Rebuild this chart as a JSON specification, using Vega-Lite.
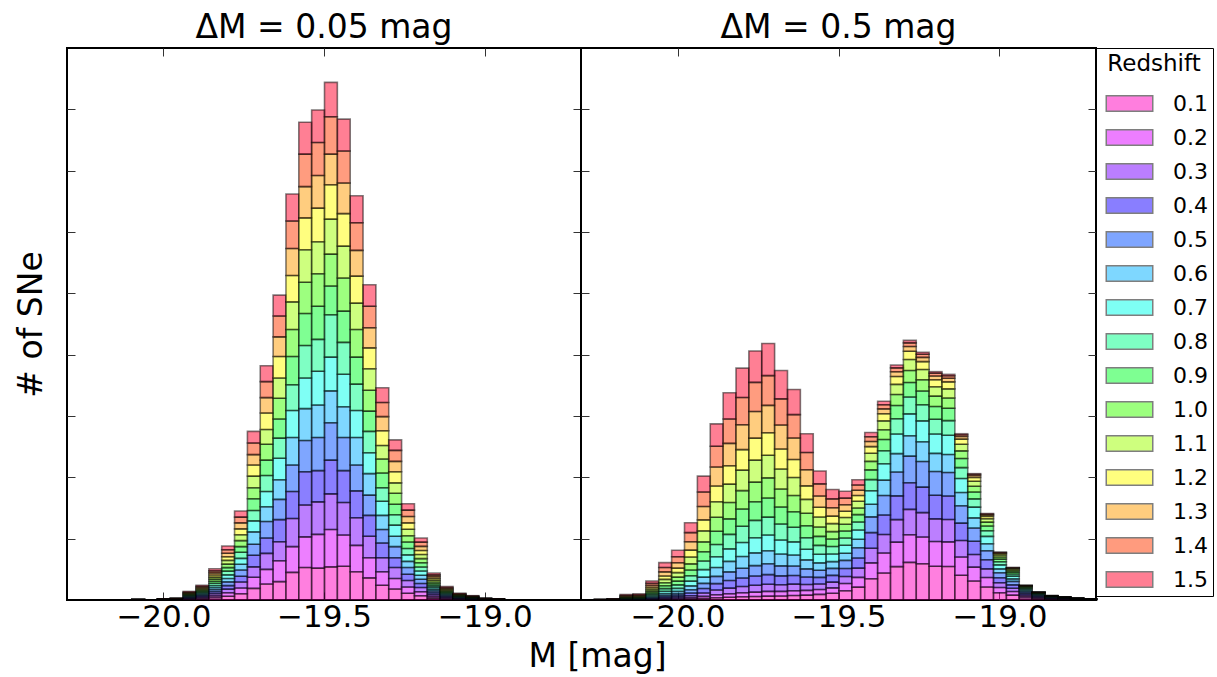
{
"$schema":"https://vega.github.io/schema/vega-lite/v6.json",
"padding":{"left":14,"top":10,"right":0,"bottom":5},
"spacing":0,
"bounds":"flush",
"config":{"font":"DejaVu Sans","view":{"stroke":"black","strokeWidth":2},
"axis":{"domain":false,"grid":false,"tickColor":"#333","tickWidth":1,"tickSize":-8,"labelFontSize":31,"labelColor":"black","titleFontSize":33,"titleFontWeight":"normal","titleColor":"black","labelFont":"DejaVu Sans","titleFont":"DejaVu Sans","minExtent":0},
"title":{"fontSize":33,"fontWeight":"normal","font":"DejaVu Sans","color":"black"}},
"data":{"values":[
{"p":"L","mag":-20.08,"a":0.07,"b":0.07,"c":0.07,"d":0.07,"e":0.07,"f":0.07,"g":0.07,"h":0.07,"i":0.07,"j":0.07,"k":0.07,"l":0.07,"m":0.07,"n":0.07,"o":0.07},
{"p":"L","mag":-20.00,"a":0.13,"b":0.13,"c":0.13,"d":0.13,"e":0.13,"f":0.13,"g":0.13,"h":0.13,"i":0.13,"j":0.13,"k":0.13,"l":0.13,"m":0.13,"n":0.13,"o":0.13},
{"p":"L","mag":-19.96,"a":0.2,"b":0.2,"c":0.2,"d":0.2,"e":0.2,"f":0.2,"g":0.2,"h":0.2,"i":0.2,"j":0.2,"k":0.2,"l":0.2,"m":0.2,"n":0.2,"o":0.2},
{"p":"L","mag":-19.92,"a":1.0,"b":0.9,"c":0.8,"d":1.0,"e":0.9,"f":1.1,"g":0.8,"h":1.0,"i":0.9,"j":0.9,"k":1.0,"l":0.8,"m":1.0,"n":0.9,"o":1.0},
{"p":"L","mag":-19.88,"a":1.7,"b":1.5,"c":1.6,"d":1.8,"e":1.4,"f":1.6,"g":1.7,"h":1.5,"i":1.6,"j":1.7,"k":1.5,"l":1.6,"m":1.6,"n":1.7,"o":1.5},
{"p":"L","mag":-19.84,"a":3.6,"b":3.2,"c":3.5,"d":3.3,"e":3.6,"f":3.1,"g":3.4,"h":3.5,"i":3.3,"j":3.6,"k":3.2,"l":3.4,"m":3.5,"n":3.3,"o":3.5},
{"p":"L","mag":-19.80,"a":6.2,"b":5.5,"c":6.0,"d":5.7,"e":6.1,"f":5.6,"g":5.9,"h":6.0,"i":5.8,"j":5.7,"k":6.1,"l":5.8,"m":5.9,"n":5.6,"o":6.1},
{"p":"L","mag":-19.76,"a":10.2,"b":9.3,"c":9.8,"d":9.5,"e":10.0,"f":9.4,"g":9.7,"h":9.9,"i":9.2,"j":9.8,"k":9.6,"l":9.5,"m":9.9,"n":9.4,"o":9.8},
{"p":"L","mag":-19.72,"a":19,"b":18,"c":17,"d":19,"e":18,"f":20,"g":18,"h":17,"i":19,"j":18,"k":19,"l":18,"m":17,"n":19,"o":19},
{"p":"L","mag":-19.68,"a":26,"b":24,"c":26,"d":25,"e":27,"f":24,"g":25,"h":26,"i":25,"j":26,"k":24,"l":27,"m":25,"n":26,"o":26},
{"p":"L","mag":-19.64,"a":30,"b":34,"c":31,"d":36,"e":33,"f":32,"g":35,"h":33,"i":31,"j":34,"k":33,"l":35,"m":32,"n":34,"o":34},
{"p":"L","mag":-19.60,"a":45,"b":42,"c":46,"d":44,"e":43,"f":45,"g":44,"h":42,"i":46,"j":44,"k":45,"l":43,"m":44,"n":45,"o":44},
{"p":"L","mag":-19.56,"a":53,"b":50,"c":52,"d":54,"e":51,"f":52,"g":50,"h":53,"i":52,"j":51,"k":53,"l":52,"m":51,"n":53,"o":52},
{"p":"L","mag":-19.52,"a":52,"b":55,"c":53,"d":51,"e":54,"f":53,"g":55,"h":52,"i":54,"j":53,"k":52,"l":55,"m":53,"n":54,"o":53},
{"p":"L","mag":-19.48,"a":54,"b":61,"c":58,"d":55,"e":61,"f":52,"g":55,"h":69,"i":47,"j":52,"k":57,"l":56,"m":50,"n":61,"o":56},
{"p":"L","mag":-19.44,"a":55,"b":51,"c":53,"d":52,"e":54,"f":50,"g":53,"h":52,"i":51,"j":54,"k":52,"l":53,"m":50,"n":52,"o":52},
{"p":"L","mag":-19.40,"a":46,"b":43,"c":45,"d":44,"e":42,"f":45,"g":44,"h":43,"i":44,"j":45,"k":43,"l":44,"m":42,"n":45,"o":44},
{"p":"L","mag":-19.36,"a":36,"b":33,"c":35,"d":34,"e":33,"f":35,"g":34,"h":35,"i":33,"j":34,"k":35,"l":34,"m":33,"n":35,"o":35},
{"p":"L","mag":-19.32,"a":24,"b":22,"c":23,"d":24,"e":22,"f":23,"g":23,"h":22,"i":24,"j":23,"k":22,"l":24,"m":23,"n":23,"o":24},
{"p":"L","mag":-19.28,"a":18,"b":17,"c":18,"d":16,"e":18,"f":17,"g":18,"h":17,"i":17,"j":18,"k":17,"l":18,"m":17,"n":18,"o":17},
{"p":"L","mag":-19.24,"a":11.0,"b":10.2,"c":10.6,"d":10.3,"e":10.8,"f":10.1,"g":10.5,"h":10.4,"i":10.6,"j":10.2,"k":10.7,"l":10.3,"m":10.5,"n":10.4,"o":10.4},
{"p":"L","mag":-19.20,"a":7.0,"b":6.5,"c":6.8,"d":6.6,"e":7.0,"f":6.5,"g":6.8,"h":6.7,"i":6.9,"j":6.6,"k":6.8,"l":6.6,"m":6.7,"n":6.8,"o":6.7},
{"p":"L","mag":-19.16,"a":3.1,"b":2.8,"c":3.0,"d":2.9,"e":3.0,"f":2.8,"g":3.0,"h":2.9,"i":3.0,"j":2.8,"k":3.0,"l":2.9,"m":3.0,"n":2.8,"o":3.0},
{"p":"L","mag":-19.12,"a":1.5,"b":1.4,"c":1.5,"d":1.4,"e":1.5,"f":1.5,"g":1.4,"h":1.5,"i":1.5,"j":1.4,"k":1.5,"l":1.5,"m":1.4,"n":1.5,"o":1.5},
{"p":"L","mag":-19.08,"a":0.7,"b":0.8,"c":0.7,"d":0.8,"e":0.7,"f":0.7,"g":0.8,"h":0.7,"i":0.7,"j":0.8,"k":0.7,"l":0.7,"m":0.8,"n":0.7,"o":0.7},
{"p":"L","mag":-19.04,"a":0.47,"b":0.47,"c":0.47,"d":0.47,"e":0.47,"f":0.47,"g":0.47,"h":0.47,"i":0.47,"j":0.47,"k":0.47,"l":0.47,"m":0.47,"n":0.47,"o":0.47},
{"p":"L","mag":-19.00,"a":0.2,"b":0.2,"c":0.2,"d":0.2,"e":0.2,"f":0.2,"g":0.2,"h":0.2,"i":0.2,"j":0.2,"k":0.2,"l":0.2,"m":0.2,"n":0.2,"o":0.2},
{"p":"L","mag":-18.96,"a":0.13,"b":0.13,"c":0.13,"d":0.13,"e":0.13,"f":0.13,"g":0.13,"h":0.13,"i":0.13,"j":0.13,"k":0.13,"l":0.13,"m":0.13,"n":0.13,"o":0.13},
{"p":"R","mag":-20.24,"a":0.01,"b":0.02,"c":0.03,"d":0.04,"e":0.04,"f":0.05,"g":0.06,"h":0.07,"i":0.08,"j":0.08,"k":0.09,"l":0.09,"m":0.11,"n":0.12,"o":0.13},
{"p":"R","mag":-20.20,"a":0.02,"b":0.03,"c":0.05,"d":0.07,"e":0.08,"f":0.1,"g":0.12,"h":0.14,"i":0.15,"j":0.16,"k":0.18,"l":0.18,"m":0.22,"n":0.24,"o":0.26},
{"p":"R","mag":-20.16,"a":0.1,"b":0.1,"c":0.2,"d":0.3,"e":0.4,"f":0.5,"g":0.5,"h":0.6,"i":0.7,"j":0.7,"k":0.8,"l":0.8,"m":1.0,"n":1.1,"o":1.2},
{"p":"R","mag":-20.12,"a":0.1,"b":0.15,"c":0.25,"d":0.35,"e":0.4,"f":0.5,"g":0.6,"h":0.7,"i":0.75,"j":0.8,"k":0.9,"l":0.9,"m":1.1,"n":1.2,"o":1.3},
{"p":"R","mag":-20.08,"a":0.3,"b":0.5,"c":0.8,"d":1.1,"e":1.2,"f":1.6,"g":1.9,"h":2.2,"i":2.3,"j":2.5,"k":2.8,"l":2.8,"m":3.4,"n":3.7,"o":4.0},
{"p":"R","mag":-20.04,"a":0.6,"b":0.9,"c":1.5,"d":2.1,"e":2.4,"f":3.1,"g":3.7,"h":4.3,"i":4.6,"j":4.9,"k":5.5,"l":5.5,"m":6.7,"n":7.3,"o":7.9},
{"p":"R","mag":-20.00,"a":0.8,"b":1.2,"c":2.0,"d":2.8,"e":3.2,"f":4.1,"g":4.9,"h":5.7,"i":6.1,"j":6.5,"k":7.3,"l":7.3,"m":8.9,"n":9.7,"o":10.5},
{"p":"R","mag":-19.96,"a":1.5,"b":2.1,"c":3.3,"d":4.6,"e":5.2,"f":6.4,"g":7.6,"h":8.8,"i":9.4,"j":10.0,"k":11.2,"l":11.2,"m":13.7,"n":14.9,"o":16.1},
{"p":"R","mag":-19.92,"a":2.6,"b":3.4,"c":5.4,"d":7.4,"e":8.3,"f":10.2,"g":12.2,"h":14.1,"i":15.1,"j":16.0,"k":18.0,"l":17.9,"m":21.8,"n":23.8,"o":25.8},
{"p":"R","mag":-19.88,"a":3.7,"b":4.9,"c":7.6,"d":10.5,"e":11.9,"f":14.5,"g":17.4,"h":20.1,"i":21.4,"j":22.8,"k":25.5,"l":25.5,"m":31.0,"n":33.8,"o":36.6},
{"p":"R","mag":-19.84,"a":4.5,"b":5.8,"c":9.1,"d":12.4,"e":14.0,"f":17.1,"g":20.5,"h":23.6,"i":25.2,"j":26.8,"k":30.0,"l":29.9,"m":36.4,"n":39.7,"o":42.9},
{"p":"R","mag":-19.80,"a":5.2,"b":6.6,"c":10.2,"d":13.9,"e":15.8,"f":19.2,"g":22.9,"h":26.4,"i":28.2,"j":29.9,"k":33.5,"l":33.4,"m":40.6,"n":44.3,"o":47.9},
{"p":"R","mag":-19.76,"a":5.7,"b":7.2,"c":11.1,"d":15.1,"e":17.0,"f":20.7,"g":24.7,"h":28.4,"i":30.2,"j":32.1,"k":35.9,"l":35.8,"m":43.5,"n":47.4,"o":51.3},
{"p":"R","mag":-19.72,"a":6.3,"b":7.7,"c":11.6,"d":15.7,"e":17.7,"f":21.4,"g":25.5,"h":29.2,"i":31.1,"j":32.9,"k":36.9,"l":36.7,"m":44.6,"n":48.5,"o":52.5},
{"p":"R","mag":-19.68,"a":6.5,"b":7.5,"c":10.9,"d":14.5,"e":16.3,"f":19.3,"g":22.9,"h":26.1,"i":27.7,"j":29.2,"k":32.7,"l":32.5,"m":39.2,"n":42.7,"o":46.1},
{"p":"R","mag":-19.64,"a":7.4,"b":7.8,"c":10.7,"d":14.0,"e":15.5,"f":18.0,"g":21.3,"h":23.9,"i":25.2,"j":26.5,"k":29.5,"l":29.2,"m":35.1,"n":38.1,"o":41.1},
{"p":"R","mag":-19.60,"a":8.0,"b":7.7,"c":9.6,"d":12.2,"e":13.3,"f":14.7,"g":17.2,"h":18.8,"i":19.6,"j":20.4,"k":22.5,"l":22.1,"m":26.2,"n":28.3,"o":30.5},
{"p":"R","mag":-19.56,"a":9.1,"b":7.9,"c":9.0,"d":10.9,"e":11.7,"f":12.0,"g":13.9,"h":14.5,"i":14.8,"j":15.1,"k":16.4,"l":15.9,"m":18.4,"n":19.7,"o":21.1},
{"p":"R","mag":-19.52,"a":10.9,"b":8.9,"c":9.4,"d":10.9,"e":11.4,"f":11.0,"g":12.4,"h":12.3,"i":12.2,"j":12.1,"k":13.0,"l":12.3,"m":13.6,"n":14.5,"o":15.3},
{"p":"R","mag":-19.48,"a":15.1,"b":11.7,"c":11.6,"d":12.9,"e":13.3,"f":11.7,"g":13.0,"h":11.9,"i":11.4,"j":10.8,"k":11.2,"l":10.2,"m":10.5,"n":10.8,"o":11.1},
{"p":"R","mag":-19.44,"a":21.0,"b":15.9,"c":15.1,"d":16.4,"e":16.7,"f":13.9,"g":15.2,"h":13.0,"i":12.0,"j":10.9,"k":10.8,"l":9.5,"m":8.6,"n":8.6,"o":8.5},
{"p":"R","mag":-19.40,"a":34.7,"b":25.8,"c":23.9,"d":25.5,"e":25.7,"f":20.5,"g":22.1,"h":18.0,"i":15.9,"j":13.9,"k":13.2,"l":10.9,"m":8.4,"n":7.7,"o":7.0},
{"p":"R","mag":-19.36,"a":44.1,"b":32.6,"c":30.0,"d":31.8,"e":31.9,"f":25.0,"g":26.7,"h":21.2,"i":18.5,"j":15.7,"k":14.6,"l":11.6,"m":7.9,"n":6.8,"o":5.6},
{"p":"R","mag":-19.32,"a":54.4,"b":40.0,"c":36.7,"d":38.7,"e":38.8,"f":30.0,"g":32.0,"h":25.0,"i":21.5,"j":18.0,"k":16.4,"l":12.8,"m":7.8,"n":6.3,"o":4.7},
{"p":"R","mag":-19.28,"a":61.4,"b":45.1,"c":41.2,"d":43.4,"e":43.4,"f":33.4,"g":35.6,"h":27.6,"i":23.6,"j":19.6,"k":17.7,"l":13.6,"m":7.8,"n":5.9,"o":4.0},
{"p":"R","mag":-19.24,"a":59.2,"b":43.5,"c":39.7,"d":41.7,"e":41.8,"f":32.0,"g":34.1,"h":26.3,"i":22.4,"j":18.5,"k":16.7,"l":12.7,"m":7.0,"n":5.1,"o":3.3},
{"p":"R","mag":-19.20,"a":55.0,"b":40.4,"c":36.8,"d":38.6,"e":38.7,"f":29.6,"g":31.5,"h":24.2,"i":20.6,"j":17.0,"k":15.2,"l":11.5,"m":6.2,"n":4.4,"o":2.6},
{"p":"R","mag":-19.16,"a":54.6,"b":40.1,"c":36.5,"d":38.4,"e":38.4,"f":29.3,"g":31.2,"h":23.9,"i":20.3,"j":16.7,"k":14.9,"l":11.3,"m":5.9,"n":4.1,"o":2.3},
{"p":"R","mag":-19.12,"a":40.4,"b":29.6,"c":27.0,"d":28.3,"e":28.3,"f":21.6,"g":23.0,"h":17.6,"i":15.0,"j":12.3,"k":10.9,"l":8.3,"m":4.3,"n":2.9,"o":1.6},
{"p":"R","mag":-19.08,"a":30.9,"b":22.7,"c":20.6,"d":21.6,"e":21.6,"f":16.5,"g":17.5,"h":13.4,"i":11.3,"j":9.3,"k":8.2,"l":6.2,"m":3.1,"n":2.1,"o":1.0},
{"p":"R","mag":-19.04,"a":21.2,"b":15.5,"c":14.1,"d":14.8,"e":14.8,"f":11.3,"g":12.0,"h":9.2,"i":7.8,"j":6.3,"k":5.6,"l":4.2,"m":2.1,"n":1.4,"o":0.7},
{"p":"R","mag":-19.00,"a":11.7,"b":8.6,"c":7.8,"d":8.2,"e":8.2,"f":6.2,"g":6.6,"h":5.1,"i":4.3,"j":3.5,"k":3.1,"l":2.3,"m":1.2,"n":0.8,"o":0.4},
{"p":"R","mag":-18.96,"a":8.0,"b":5.8,"c":5.3,"d":5.6,"e":5.6,"f":4.2,"g":4.5,"h":3.4,"i":2.9,"j":2.4,"k":2.1,"l":1.6,"m":0.8,"n":0.5,"o":0.3},
{"p":"R","mag":-18.92,"a":3.6,"b":2.6,"c":2.4,"d":2.5,"e":2.5,"f":1.9,"g":2.0,"h":1.6,"i":1.3,"j":1.1,"k":1.0,"l":0.7,"m":0.4,"n":0.2,"o":0.1},
{"p":"R","mag":-18.88,"a":2.0,"b":1.4,"c":1.3,"d":1.4,"e":1.4,"f":1.0,"g":1.1,"h":0.8,"i":0.7,"j":0.6,"k":0.5,"l":0.4,"m":0.2,"n":0.1,"o":0.1},
{"p":"R","mag":-18.84,"a":1.1,"b":0.8,"c":0.7,"d":0.7,"e":0.7,"f":0.6,"g":0.6,"h":0.5,"i":0.4,"j":0.3,"k":0.3,"l":0.2,"m":0.1,"n":0.1,"o":0.04},
{"p":"R","mag":-18.80,"a":0.8,"b":0.6,"c":0.5,"d":0.5,"e":0.5,"f":0.4,"g":0.4,"h":0.3,"i":0.3,"j":0.2,"k":0.2,"l":0.2,"m":0.1,"n":0.05,"o":0.03},
{"p":"R","mag":-18.76,"a":0.45,"b":0.33,"c":0.3,"d":0.32,"e":0.32,"f":0.24,"g":0.26,"h":0.2,"i":0.17,"j":0.14,"k":0.12,"l":0.09,"m":0.05,"n":0.03,"o":0.02},
{"p":"R","mag":-18.72,"a":0.3,"b":0.22,"c":0.2,"d":0.21,"e":0.21,"f":0.16,"g":0.17,"h":0.13,"i":0.11,"j":0.09,"k":0.08,"l":0.06,"m":0.03,"n":0.02,"o":0.01}
]},
"hconcat":[
{"width":514,"height":552,
"title":{"text":"ΔM = 0.05 mag","baseline":"alphabetic","offset":-23},
"layer":[
{"transform":[{"filter":"datum.p=='L'"},{"fold":["a","b","c","d","e","f","g","h","i","j","k","l","m","n","o"],"as":["zk","cnt"]}],
"mark":{"type":"bar","fillOpacity":0.5,"stroke":"black","strokeOpacity":0.5,"strokeWidth":1.6,"binSpacing":0},
"encoding":{
"x":{"field":"mag","type":"quantitative","bin":{"extent":[-20.3,-18.7],"step":0.04,"nice":false},"scale":{"domain":[-20.3,-18.7],"nice":false,"zero":false},"axis":{"orient":"bottom","values":[-20,-19.5,-19],"format":".1f","labelPadding":10,"title":null}},
"y":{"aggregate":"sum","field":"cnt","type":"quantitative","stack":"zero","scale":{"domain":[0,900],"nice":false},"axis":{"orient":"left","values":[100,200,300,400,500,600,700,800],"labels":false,"title":"# of SNe","titlePadding":18}},
"color":{"field":"zk","type":"nominal","scale":{"domain":["a","b","c","d","e","f","g","h","i","j","k","l","m","n","o"],"range":["#ff00bf","#dc00ff","#7900ff","#1600ff","#004dff","#00b0ff","#00ffeb","#00ff89","#00ff27","#3bff00","#9eff00","#fffe00","#ff9c00","#ff3900","#ff0029"]},
"legend":{"title":"Redshift","orient":"right","offset":-3,"padding":5,"strokeColor":"black","titleFontSize":23,"titleFontWeight":"normal","titleColor":"black","titleAnchor":"middle","titlePadding":11,"labelFontSize":22,"labelColor":"black","symbolType":"M-1.5,-0.5H1.5V0.5H-1.5Z","symbolSize":961,"symbolOpacity":0.5,"symbolStrokeColor":"black","symbolStrokeWidth":1.5,"rowPadding":6,"labelOffset":27,"symbolOffset":12,"labelExpr":"format((indexof('abcdefghijklmno', datum.value) + 1) / 10, '.1f')"}},
"order":{"field":"zk","sort":"ascending"}
}},
{"data":{"values":[{"v":0}]},"mark":{"type":"rule","opacity":0},
"encoding":{"x":{"datum":-20,"type":"quantitative","scale":{"domain":[-20.3,-18.7],"nice":false,"zero":false},"axis":{"orient":"top","values":[-20,-19.5,-19],"labels":false,"title":null,"minExtent":0,"maxExtent":0}},
"y":{"datum":0,"type":"quantitative","scale":{"domain":[0,900],"nice":false},"axis":{"orient":"right","values":[100,200,300,400,500,600,700,800],"labels":false,"title":null,"minExtent":0,"maxExtent":0}}}}
],
"resolve":{"axis":{"x":"independent","y":"independent"}}
},
{"width":515,"height":552,
"title":{"text":"ΔM = 0.5 mag","baseline":"alphabetic","offset":-23},
"layer":[
{"transform":[{"filter":"datum.p=='R'"},{"fold":["a","b","c","d","e","f","g","h","i","j","k","l","m","n","o"],"as":["zk","cnt"]}],
"mark":{"type":"bar","fillOpacity":0.5,"stroke":"black","strokeOpacity":0.5,"strokeWidth":1.6,"binSpacing":0},
"encoding":{
"x":{"field":"mag","type":"quantitative","bin":{"extent":[-20.3,-18.7],"step":0.04,"nice":false},"scale":{"domain":[-20.3,-18.7],"nice":false,"zero":false},"axis":{"orient":"bottom","values":[-20,-19.5,-19],"format":".1f","labelPadding":10,"title":"M [mag]","titleX":16,"titlePadding":8}},
"y":{"aggregate":"sum","field":"cnt","type":"quantitative","stack":"zero","scale":{"domain":[0,900],"nice":false},"axis":{"orient":"left","values":[100,200,300,400,500,600,700,800],"labels":false,"title":null}},
"color":{"field":"zk","type":"nominal","scale":{"domain":["a","b","c","d","e","f","g","h","i","j","k","l","m","n","o"],"range":["#ff00bf","#dc00ff","#7900ff","#1600ff","#004dff","#00b0ff","#00ffeb","#00ff89","#00ff27","#3bff00","#9eff00","#fffe00","#ff9c00","#ff3900","#ff0029"]}},
"order":{"field":"zk","sort":"ascending"}
}},
{"data":{"values":[{"v":0}]},"mark":{"type":"rule","opacity":0},
"encoding":{"x":{"datum":-20,"type":"quantitative","scale":{"domain":[-20.3,-18.7],"nice":false,"zero":false},"axis":{"orient":"top","values":[-20,-19.5,-19],"labels":false,"title":null,"minExtent":0,"maxExtent":0}},
"y":{"datum":0,"type":"quantitative","scale":{"domain":[0,900],"nice":false},"axis":{"orient":"right","values":[100,200,300,400,500,600,700,800],"labels":false,"title":null,"minExtent":0,"maxExtent":0}}}}
],
"resolve":{"axis":{"x":"independent","y":"independent"}}
}
]
}
